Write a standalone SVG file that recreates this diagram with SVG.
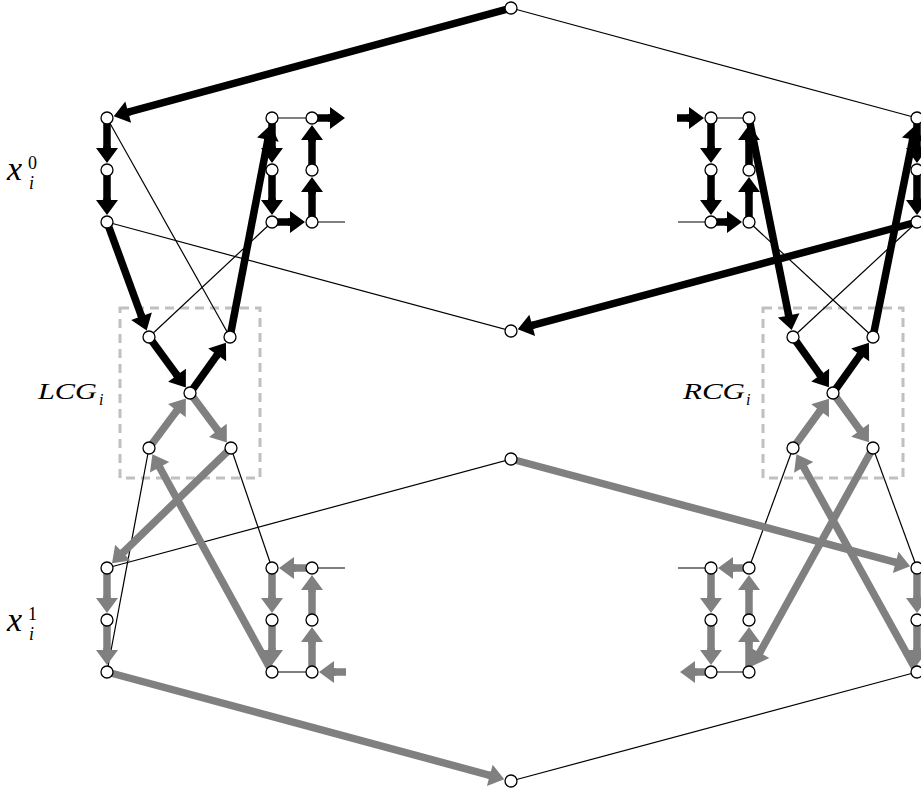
<svg xmlns="http://www.w3.org/2000/svg" width="921" height="794" viewBox="0 0 921 794">
<style>
.n{fill:#fff;stroke:#000;stroke-width:1.3}
.t{stroke:#000;stroke-width:1.2;fill:none}
.k{stroke:#000;stroke-width:7.5;marker-end:url(#ak)}
.g{stroke:#808080;stroke-width:7.5;marker-end:url(#ag)}
.box{fill:none;stroke:#c0c0c0;stroke-width:3;stroke-dasharray:9 6}
</style>
<defs>
<marker id="ak" markerUnits="userSpaceOnUse" viewBox="-2 -12 18 24" markerWidth="18" markerHeight="24" refX="0" refY="0" orient="auto" overflow="visible"><path d="M-2,-3.7 L0,-3.7 L0,-11 L15,0 L0,11 L0,3.7 L-2,3.7z" fill="#000"/></marker>
<marker id="ag" markerUnits="userSpaceOnUse" viewBox="-2 -12 18 24" markerWidth="18" markerHeight="24" refX="0" refY="0" orient="auto" overflow="visible"><path d="M-2,-3.7 L0,-3.7 L0,-11 L15,0 L0,11 L0,3.7 L-2,3.7z" fill="#808080"/></marker>
</defs>
<rect width="921" height="794" fill="#fff"/>
<g id="groups">
<rect class="box" x="120" y="308" width="140" height="170"/>
<rect class="box" x="763" y="308" width="140" height="170"/>
</g>
<g id="labels" font-family="Liberation Serif, DejaVu Serif, serif" fill="#000">
<text x="7" y="180" font-size="34" font-style="italic">x</text><text x="28" y="169" font-size="18">0</text><text x="29" y="189" font-size="18" font-style="italic">i</text>
<text x="7" y="631" font-size="34" font-style="italic">x</text><text x="28" y="620" font-size="18">1</text><text x="29" y="640" font-size="18" font-style="italic">i</text>
<text x="38" y="399" font-size="23" font-style="italic" textLength="59" lengthAdjust="spacingAndGlyphs">LCG</text><text x="99" y="405" font-size="16" font-style="italic">i</text>
<text x="683" y="399" font-size="23" font-style="italic" textLength="62" lengthAdjust="spacingAndGlyphs">RCG</text><text x="746" y="405" font-size="16" font-style="italic">i</text>
</g>
<g id="connectors">
<line class="t" x1="511" y1="8" x2="917" y2="118"/>
<line class="t" x1="107" y1="118" x2="230" y2="337"/>
<line class="t" x1="107" y1="222" x2="511" y2="331"/>
<line class="t" x1="272" y1="222" x2="149" y2="337"/>
<line class="t" x1="272" y1="118" x2="312" y2="118"/>
<line class="t" x1="312" y1="222" x2="345" y2="222"/>
<line class="t" x1="678" y1="222" x2="711" y2="222"/>
<line class="t" x1="711" y1="118" x2="749" y2="118"/>
<line class="t" x1="749" y1="222" x2="873" y2="337"/>
<line class="t" x1="917" y1="222" x2="793" y2="337"/>
<line class="t" x1="511" y1="459" x2="107" y2="568"/>
<line class="t" x1="149" y1="448" x2="107" y2="672"/>
<line class="t" x1="231" y1="448" x2="272" y2="568"/>
<line class="t" x1="272" y1="672" x2="312" y2="672"/>
<line class="t" x1="312" y1="568" x2="345" y2="568"/>
<line class="t" x1="678" y1="568" x2="711" y2="568"/>
<line class="t" x1="711" y1="672" x2="749" y2="672"/>
<line class="t" x1="793" y1="448" x2="749" y2="568"/>
<line class="t" x1="873" y1="448" x2="917" y2="568"/>
<line class="t" x1="511" y1="781" x2="917" y2="672"/>

<line class="g" x1="149" y1="448" x2="176.9" y2="410.6"/>
<line class="g" x1="190" y1="393" x2="217.9" y2="430.4"/>
<line class="g" x1="272" y1="672" x2="159.6" y2="467.3"/>
<line class="g" x1="231" y1="448" x2="122.8" y2="552.7"/>
<line class="g" x1="107" y1="568" x2="107" y2="598"/>
<line class="g" x1="107" y1="620" x2="107" y2="650"/>
<line class="g" x1="312" y1="568" x2="294" y2="568"/>
<line class="g" x1="272" y1="568" x2="272" y2="598"/>
<line class="g" x1="272" y1="620" x2="272" y2="650"/>
<line class="g" x1="346" y1="672" x2="334" y2="672"/>
<line class="g" x1="312" y1="672" x2="312" y2="642"/>
<line class="g" x1="312" y1="620" x2="312" y2="590"/>
<line class="g" x1="107" y1="672" x2="489.8" y2="775.3"/>
<line class="g" x1="511" y1="459" x2="895.7" y2="562.3"/>
<line class="g" x1="793" y1="448" x2="820.1" y2="410.8"/>
<line class="g" x1="833" y1="393" x2="860.1" y2="430.2"/>
<line class="g" x1="873" y1="448" x2="759.7" y2="652.8"/>
<line class="g" x1="917" y1="672" x2="803.7" y2="467.3"/>
<line class="g" x1="749" y1="568" x2="733" y2="568"/>
<line class="g" x1="711" y1="568" x2="711" y2="598"/>
<line class="g" x1="711" y1="620" x2="711" y2="650"/>
<line class="g" x1="711" y1="672" x2="695" y2="672"/>
<line class="g" x1="749" y1="672" x2="749" y2="642"/>
<line class="g" x1="749" y1="620" x2="749" y2="590"/>
<line class="g" x1="917" y1="568" x2="917" y2="598"/>
<line class="g" x1="917" y1="620" x2="917" y2="650"/>

<line class="k" x1="511" y1="8" x2="128.2" y2="112.2"/>
<line class="k" x1="107" y1="118" x2="107" y2="148"/>
<line class="k" x1="107" y1="170" x2="107" y2="200"/>
<line class="k" x1="107" y1="222" x2="141.5" y2="316.3"/>
<line class="k" x1="149" y1="337" x2="177" y2="375.3"/>
<line class="k" x1="190" y1="393" x2="217.2" y2="354.9"/>
<line class="k" x1="230" y1="337" x2="267.9" y2="139.6"/>
<line class="k" x1="272" y1="118" x2="272" y2="148"/>
<line class="k" x1="272" y1="170" x2="272" y2="200"/>
<line class="k" x1="272" y1="222" x2="290" y2="222"/>
<line class="k" x1="312" y1="222" x2="312" y2="192"/>
<line class="k" x1="312" y1="170" x2="312" y2="140"/>
<line class="k" x1="312" y1="118" x2="330" y2="118"/>
<line class="k" x1="677" y1="118" x2="689" y2="118"/>
<line class="k" x1="711" y1="118" x2="711" y2="148"/>
<line class="k" x1="711" y1="170" x2="711" y2="200"/>
<line class="k" x1="711" y1="222" x2="727" y2="222"/>
<line class="k" x1="749" y1="222" x2="749" y2="192"/>
<line class="k" x1="749" y1="170" x2="749" y2="140"/>
<line class="k" x1="749" y1="118" x2="788.7" y2="315.4"/>
<line class="k" x1="793" y1="337" x2="820.2" y2="375.1"/>
<line class="k" x1="833" y1="393" x2="860.2" y2="354.9"/>
<line class="k" x1="873" y1="337" x2="912.7" y2="139.6"/>
<line class="k" x1="917" y1="118" x2="917" y2="148"/>
<line class="k" x1="917" y1="170" x2="917" y2="200"/>
<line class="k" x1="917" y1="222" x2="532.2" y2="325.3"/>
</g>
<g id="T"><circle class="n" cx="511" cy="8" r="6"/></g>
<g id="M1"><circle class="n" cx="511" cy="331" r="6"/></g>
<g id="M2"><circle class="n" cx="511" cy="459" r="6"/></g>
<g id="Bt"><circle class="n" cx="511" cy="781" r="6"/></g>
<g id="L0"><circle class="n" cx="107" cy="118" r="6"/></g>
<g id="L1"><circle class="n" cx="107" cy="170" r="6"/></g>
<g id="L2"><circle class="n" cx="107" cy="222" r="6"/></g>
<g id="A0"><circle class="n" cx="272" cy="118" r="6"/></g>
<g id="A1"><circle class="n" cx="272" cy="170" r="6"/></g>
<g id="A2"><circle class="n" cx="272" cy="222" r="6"/></g>
<g id="B0"><circle class="n" cx="312" cy="118" r="6"/></g>
<g id="B1"><circle class="n" cx="312" cy="170" r="6"/></g>
<g id="B2"><circle class="n" cx="312" cy="222" r="6"/></g>
<g id="C0"><circle class="n" cx="711" cy="118" r="6"/></g>
<g id="C1"><circle class="n" cx="711" cy="170" r="6"/></g>
<g id="C2"><circle class="n" cx="711" cy="222" r="6"/></g>
<g id="D0"><circle class="n" cx="749" cy="118" r="6"/></g>
<g id="D1"><circle class="n" cx="749" cy="170" r="6"/></g>
<g id="D2"><circle class="n" cx="749" cy="222" r="6"/></g>
<g id="R0"><circle class="n" cx="917" cy="118" r="6"/></g>
<g id="R1"><circle class="n" cx="917" cy="170" r="6"/></g>
<g id="R2"><circle class="n" cx="917" cy="222" r="6"/></g>
<g id="l1"><circle class="n" cx="149" cy="337" r="6"/></g>
<g id="l2"><circle class="n" cx="230" cy="337" r="6"/></g>
<g id="lc"><circle class="n" cx="190" cy="393" r="6"/></g>
<g id="l3"><circle class="n" cx="149" cy="448" r="6"/></g>
<g id="l4"><circle class="n" cx="231" cy="448" r="6"/></g>
<g id="r1"><circle class="n" cx="793" cy="337" r="6"/></g>
<g id="r2"><circle class="n" cx="873" cy="337" r="6"/></g>
<g id="rc"><circle class="n" cx="833" cy="393" r="6"/></g>
<g id="r3"><circle class="n" cx="793" cy="448" r="6"/></g>
<g id="r4"><circle class="n" cx="873" cy="448" r="6"/></g>
<g id="L3"><circle class="n" cx="107" cy="568" r="6"/></g>
<g id="L4"><circle class="n" cx="107" cy="620" r="6"/></g>
<g id="L5"><circle class="n" cx="107" cy="672" r="6"/></g>
<g id="A3"><circle class="n" cx="272" cy="568" r="6"/></g>
<g id="A4"><circle class="n" cx="272" cy="620" r="6"/></g>
<g id="A5"><circle class="n" cx="272" cy="672" r="6"/></g>
<g id="B3"><circle class="n" cx="312" cy="568" r="6"/></g>
<g id="B4"><circle class="n" cx="312" cy="620" r="6"/></g>
<g id="B5"><circle class="n" cx="312" cy="672" r="6"/></g>
<g id="C3"><circle class="n" cx="711" cy="568" r="6"/></g>
<g id="C4"><circle class="n" cx="711" cy="620" r="6"/></g>
<g id="C5"><circle class="n" cx="711" cy="672" r="6"/></g>
<g id="D3"><circle class="n" cx="749" cy="568" r="6"/></g>
<g id="D4"><circle class="n" cx="749" cy="620" r="6"/></g>
<g id="D5"><circle class="n" cx="749" cy="672" r="6"/></g>
<g id="R3"><circle class="n" cx="917" cy="568" r="6"/></g>
<g id="R4"><circle class="n" cx="917" cy="620" r="6"/></g>
<g id="R5"><circle class="n" cx="917" cy="672" r="6"/></g>
</svg>
